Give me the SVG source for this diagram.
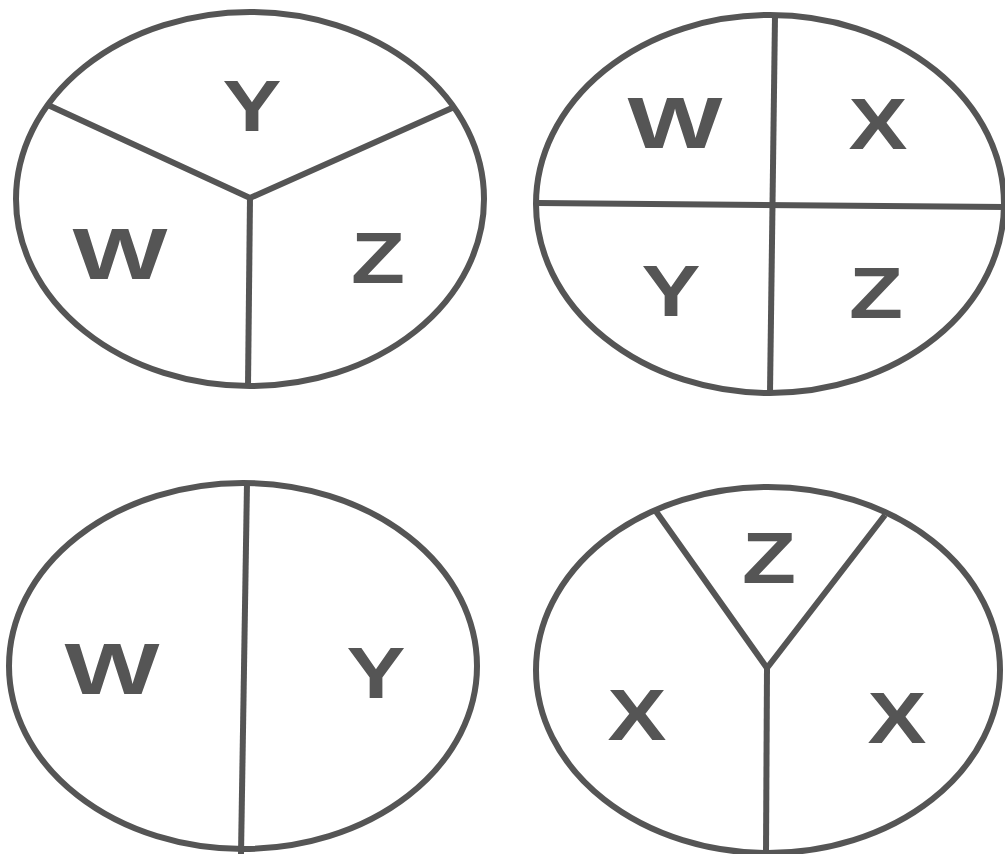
<svg xmlns="http://www.w3.org/2000/svg" width="1005" height="854" viewBox="0 0 1005 854">
<style>
.sh{fill:none;stroke:#555;stroke-width:6}
.ln{fill:none;stroke:#555;stroke-width:6;stroke-linecap:butt;stroke-linejoin:miter}
.lb{font-family:"Liberation Sans",Arial,sans-serif;font-weight:bold;font-size:73px;fill:#555;text-anchor:middle}
</style>
<rect width="1005" height="854" fill="#fff"/>
<g id="ellipse1">
<ellipse class="sh" cx="250" cy="199" rx="234" ry="187"/>
<text class="lb" x="252" y="131" textLength="59" lengthAdjust="spacingAndGlyphs">Y</text>
<text class="lb" x="120" y="279" textLength="95" lengthAdjust="spacingAndGlyphs">W</text>
<text class="lb" x="378" y="283" textLength="54" lengthAdjust="spacingAndGlyphs">Z</text>
</g>
<g id="ellipse2">
<ellipse class="sh" cx="770" cy="204" rx="234" ry="189"/>
<text class="lb" x="675" y="148" textLength="95" lengthAdjust="spacingAndGlyphs">W</text>
<text class="lb" x="878" y="149" textLength="59" lengthAdjust="spacingAndGlyphs">X</text>
<text class="lb" x="671" y="316" textLength="59" lengthAdjust="spacingAndGlyphs">Y</text>
<text class="lb" x="876" y="318" textLength="54" lengthAdjust="spacingAndGlyphs">Z</text>
</g>
<g id="ellipse3">
<ellipse class="sh" cx="243" cy="666" rx="234" ry="183"/>
<text class="lb" x="112" y="694" textLength="95" lengthAdjust="spacingAndGlyphs">W</text>
<text class="lb" x="376" y="698" textLength="59" lengthAdjust="spacingAndGlyphs">Y</text>
</g>
<g id="ellipse4">
<ellipse class="sh" cx="768" cy="670" rx="232" ry="183"/>
<text class="lb" x="769" y="583" textLength="54" lengthAdjust="spacingAndGlyphs">Z</text>
<text class="lb" x="637" y="740" textLength="59" lengthAdjust="spacingAndGlyphs">X</text>
<text class="lb" x="897" y="743" textLength="59" lengthAdjust="spacingAndGlyphs">X</text>
</g>
<g id="connectors">
<polyline class="ln" points="48,105 250,198 452,108"/>
<line class="ln" x1="250" y1="198" x2="248" y2="386"/>
<line class="ln" x1="775" y1="16" x2="770" y2="393"/>
<line class="ln" x1="538" y1="203" x2="1005" y2="207"/>
<line class="ln" x1="247" y1="483" x2="241" y2="854"/>
<polyline class="ln" points="655,510 767,668 885,515"/>
<line class="ln" x1="767" y1="668" x2="766" y2="854"/>
</g>
</svg>
